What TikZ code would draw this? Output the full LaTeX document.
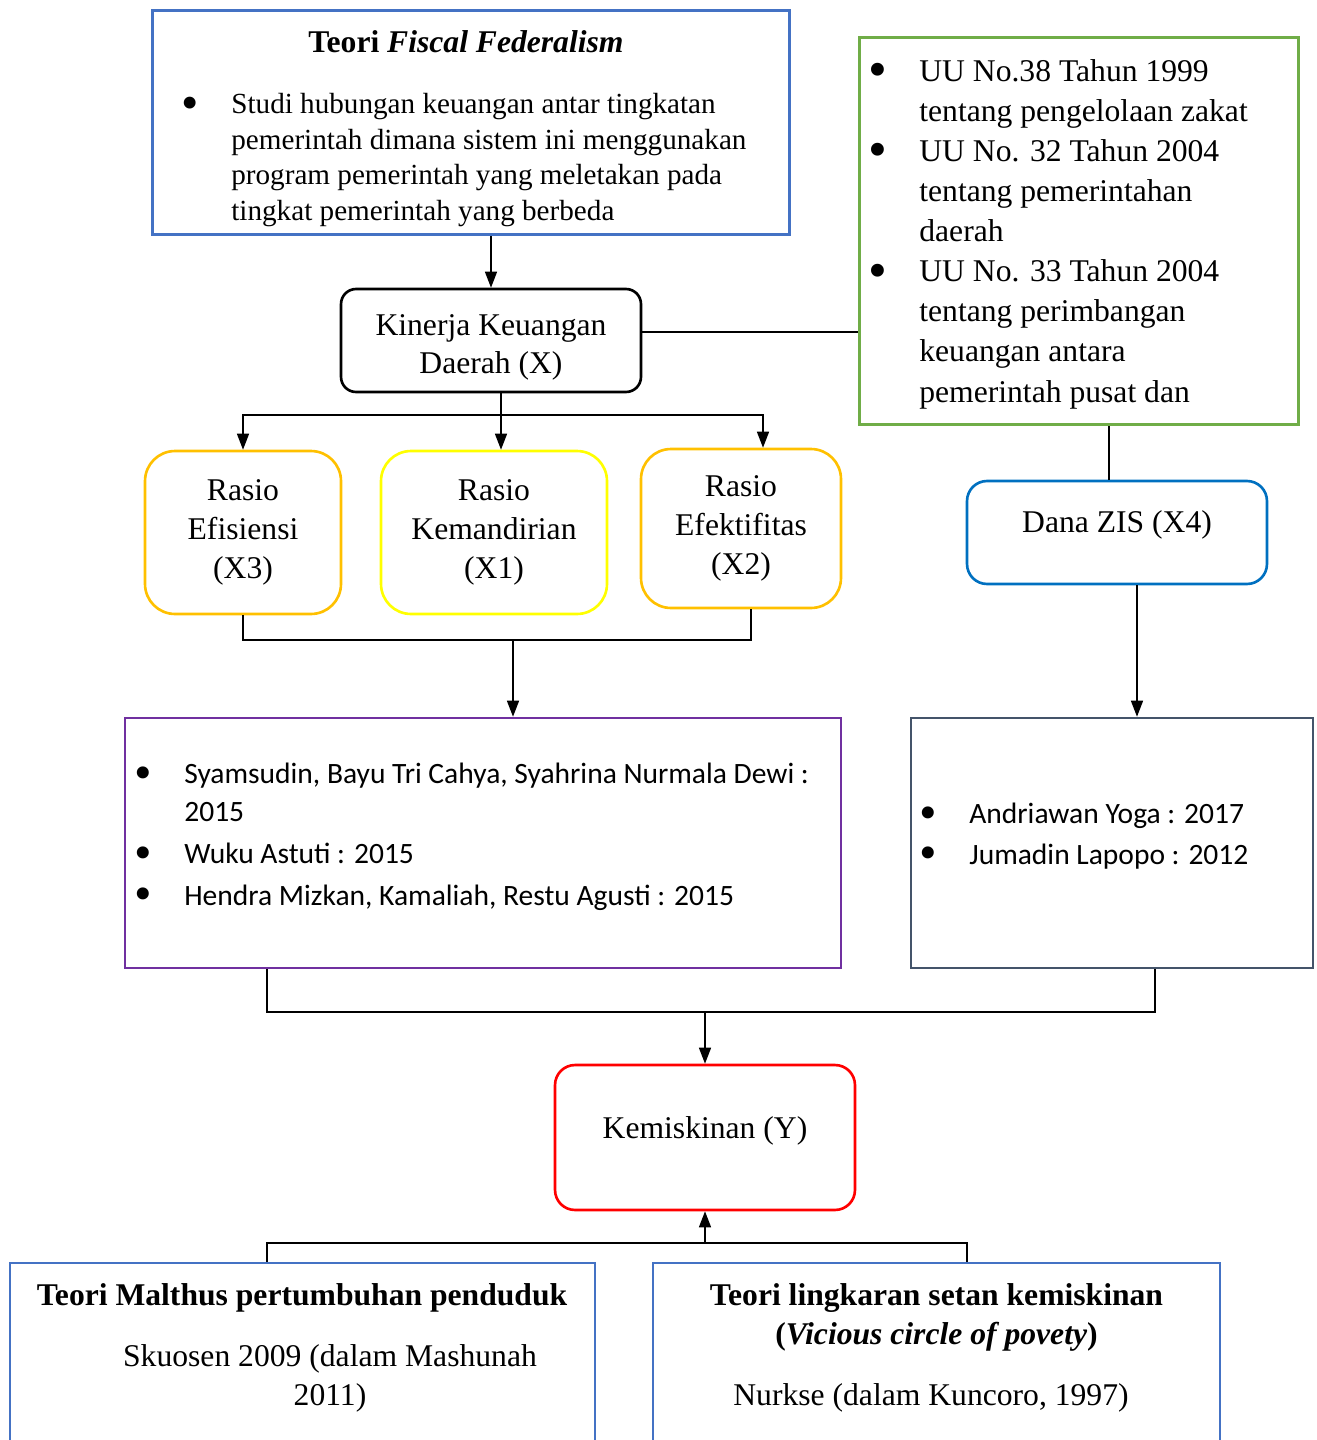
\documentclass[tikz,border=0pt]{standalone}
\usepackage{fontspec}
\setmainfont{Liberation Serif}
\setsansfont{Carlito}
\usetikzlibrary{arrows.meta}

\definecolor{fiscalblue}{HTML}{4472C4}
\definecolor{lawgreen}{HTML}{70AD47}
\definecolor{ratioorange}{HTML}{FFC000}
\definecolor{ratioyellow}{HTML}{FFFF00}
\definecolor{zisblue}{HTML}{0070C0}
\definecolor{studypurple}{HTML}{7030A0}
\definecolor{studyslate}{HTML}{44546A}
\definecolor{povertyred}{HTML}{FF0000}

% bullet, centred 0.82cm left of the text
\newcommand{\itm}{\llap{\makebox[0pt][c]{\rmfamily\raisebox{-0.2em}{\scalebox{1.7}{\textbullet}}}\hspace{0.82cm}}}

\begin{document}
\begin{tikzpicture}[x=0.02cm, y=-0.02cm]
  \tikzstyle{box} = [draw, line width=1.5pt, inner sep=0pt, align=center, font=\fontsize{18}{22}\selectfont]
  \tikzstyle{rbox} = [box, rounded corners=0.6cm]
  \tikzstyle{txt} = [inner sep=0pt, align=left, anchor=base west]
  \tikzstyle{edge} = [line width=0.8pt, >={Triangle[length=0.32cm, width=0.24cm]}]
  \useasboundingbox (0,0) rectangle (1317,1440);

  % boxes
  \node[box, draw=fiscalblue, line width=1.7pt, minimum width=12.76cm, minimum height=4.5cm] (fiscal) at (471,122.5) {};
  \node[box, draw=lawgreen, line width=1.7pt, minimum width=8.8cm, minimum height=7.76cm] (law) at (1079,231) {};
  \node[box, rounded corners=0.3cm, minimum width=6cm, minimum height=2.06cm] (kinerja) at (491,340.5) {};
  \node[rbox, draw=ratioorange, minimum width=3.92cm, minimum height=3.26cm] (efisiensi) at (243,532.5) {Rasio\\Efisiensi\\(X3)};
  \node[rbox, draw=ratioyellow, minimum width=4.52cm, minimum height=3.26cm] (kemandirian) at (494,532.5) {Rasio\\Kemandirian\\(X1)};
  \node[rbox, draw=ratioorange, minimum width=4cm, minimum height=3.18cm] (efektifitas) at (741,528.5) {Rasio\\Efektifitas\\(X2)};
  \node[box, draw=zisblue, rounded corners=0.4cm, minimum width=6cm, minimum height=2.06cm] (dana) at (1117,532.5) {};
  \node[box, draw=studypurple, minimum width=14.32cm, minimum height=5cm] (studyx) at (483,843) {};
  \node[box, draw=studyslate, minimum width=8.04cm, minimum height=5cm] (studyzis) at (1112,843) {};
  \node[box, draw=povertyred, rounded corners=0.4cm, minimum width=6cm, minimum height=2.9cm] (kemiskinan) at (705,1137.5) {};
  \node[box, draw=fiscalblue, minimum width=11.7cm, minimum height=3.94cm] (malthus) at (302.5,1361.5) {};
  \node[box, draw=fiscalblue, minimum width=11.34cm, minimum height=3.94cm] (lingkaran) at (936.5,1361.5) {};

  % texts (base = baseline of the last line)
  \node[anchor=base, font=\bfseries\fontsize{18}{22}\selectfont] (fiscaltitle) at (466,52) {Teori \textit{Fiscal Federalism}};
  \node[txt, font=\fontsize{16.6}{20.2}\selectfont] (fiscaltext) at (231,220) {\itm Studi hubungan keuangan antar tingkatan\\pemerintah dimana sistem ini menggunakan\\program pemerintah yang meletakan pada\\tingkat pemerintah yang berbeda};
  \node[txt, font=\fontsize{18}{22.8}\selectfont] (lawtext) at (919,402) {\itm UU No.38 Tahun 1999\\tentang pengelolaan zakat\\\itm UU No. 32 Tahun 2004\\tentang pemerintahan\\daerah\\\itm UU No. 33 Tahun 2004\\tentang perimbangan\\keuangan antara\\pemerintah pusat dan};
  \node[anchor=base, align=center, inner sep=0pt, font=\fontsize{18}{21.5}\selectfont] (kinerjatext) at (491,373) {Kinerja Keuangan\\Daerah (X)};
  \node[anchor=base, font=\fontsize{18}{22}\selectfont] (danatext) at (1117,532) {Dana ZIS (X4)};
  \node[txt, font=\sffamily\fontsize{16.8}{21.5}\selectfont] (studyxtext) at (184,905) {\itm Syamsudin, Bayu Tri Cahya, Syahrina Nurmala Dewi :\\2015\\[2.3pt]\itm Wuku Astuti : 2015\\[2.3pt]\itm Hendra Mizkan, Kamaliah, Restu Agusti : 2015};
  \node[txt, font=\sffamily\fontsize{16.8}{23.2}\selectfont] (studyzistext) at (969,864) {\itm Andriawan Yoga : 2017\\\itm Jumadin Lapopo : 2012};
  \node[anchor=base, font=\fontsize{18}{22}\selectfont] (kemiskinantext) at (705,1138) {Kemiskinan (Y)};
  \node[anchor=base, font=\bfseries\fontsize{18}{22}\selectfont] (malthustitle) at (302,1305) {Teori Malthus pertumbuhan penduduk};
  \node[anchor=base, align=center, inner sep=0pt, font=\fontsize{18}{22.1}\selectfont] (malthussrc) at (330,1405) {Skuosen 2009 (dalam Mashunah\\2011)};
  \node[anchor=base, align=center, inner sep=0pt, font=\bfseries\fontsize{18}{22.1}\selectfont] (lingkarantitle) at (936.5,1344) {Teori lingkaran setan kemiskinan\\(\textit{Vicious circle of povety})};
  \node[anchor=base, font=\fontsize{18}{22}\selectfont] (lingkaransrc) at (931,1405) {Nurkse (dalam Kuncoro, 1997)};

  % connectors
  \coordinate (split) at (501,415);
  \coordinate (merge) at (513,640);
  \coordinate (join) at (705,1012);
  \coordinate (fork) at (705,1243);
  \draw[edge, ->] (fiscal.south -| kinerja.north) -- (kinerja.north);
  \draw[edge] ([yshift=0.17cm]kinerja.east) -- ([yshift=0.17cm]kinerja.east -| law.west);
  \draw[edge] ([xshift=-0.16cm]dana.north |- law.south) -- ([xshift=-0.16cm]dana.north);
  \draw[edge] (kinerja.south -| split) -- (split);
  \draw[edge, ->] (split) -| (efisiensi.north);
  \draw[edge, ->] (split) -- (split |- kemandirian.north);
  \draw[edge, ->] (split) -| ([xshift=0.44cm]efektifitas.north);
  \draw[edge] (efisiensi.south) |- ([xshift=0.2cm]efektifitas.south |- merge) -- ([xshift=0.2cm]efektifitas.south);
  \draw[edge, ->] (merge) -- (merge |- studyx.north);
  \draw[edge, ->] ([xshift=0.4cm]dana.south) -- ([xshift=0.4cm]dana.south |- studyzis.north);
  \draw[edge] ([xshift=-4.32cm]studyx.south) |- ([xshift=0.86cm]studyzis.south |- join) -- ([xshift=0.86cm]studyzis.south);
  \draw[edge, ->] (join) -- (kemiskinan.north);
  \draw[edge] ([xshift=-0.71cm]malthus.north) |- ([xshift=0.61cm]lingkaran.north |- fork) -- ([xshift=0.61cm]lingkaran.north);
  \draw[edge, ->] (fork) -- (kemiskinan.south);
\end{tikzpicture}
\end{document}
